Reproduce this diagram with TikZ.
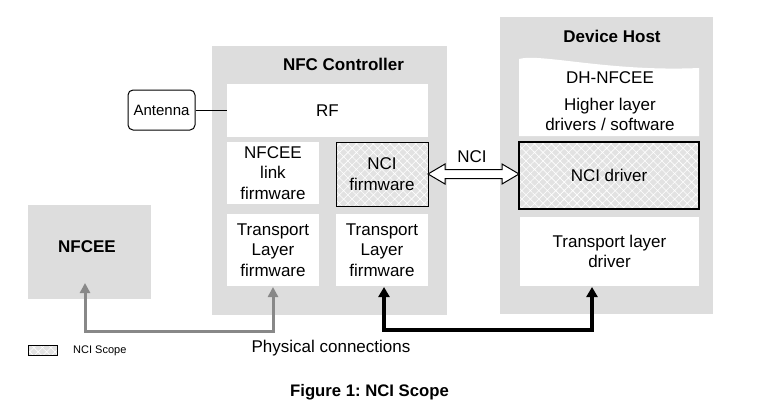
\documentclass[tikz,border=0pt]{standalone}
\usepackage{fontspec}
\setmainfont{Liberation Sans}
\frenchspacing
\usetikzlibrary{patterns.meta,calc,arrows.meta}
\definecolor{boxgray}{RGB}{221,221,221}
\definecolor{hatchbg}{RGB}{226,226,226}
\definecolor{arrgray}{RGB}{136,136,136}
\tikzset{
  txt/.style={font=\fontsize{17}{20.5}\selectfont, align=center, inner sep=0pt},
  ttl/.style={font=\fontsize{17}{20.5}\selectfont\bfseries, inner sep=0pt},
  graybox/.style={fill=boxgray, draw=none, inner sep=0pt, outer sep=0pt},
  whitebox/.style={fill=white, draw=none, inner sep=0pt, outer sep=0pt, txt},
  ncibox/.style={preaction={fill=hatchbg}, pattern={Hatch[angle=45,distance=6pt,line width=0.6pt]}, pattern color=white, draw=black, inner sep=0pt, outer sep=0pt, txt},
  garrow/.style={draw=arrgray, line width=3pt, {Triangle[length=10pt,width=10pt]}-{Triangle[length=10pt,width=10pt]}},
  barrow/.style={draw=black, line width=3.5pt, {Triangle[length=10pt,width=11pt]}-{Triangle[length=10pt,width=11pt]}},
}
\begin{document}
\begin{tikzpicture}[x=1pt,y=-1pt]
\useasboundingbox (0,0) rectangle (770,407);

% NFCEE (left)
\node[graybox, minimum width=123pt, minimum height=94pt] (nfcee) at (89.5,252) {};
\node[ttl] (nfceet) at (87,247) {NFCEE};

% NFC Controller
\node[graybox, minimum width=235pt, minimum height=269pt] (nfcc) at (329.5,180.5) {};
\node[ttl] (nfcct) at (343.5,64) {NFC Controller};
\node[whitebox, minimum width=201pt, minimum height=53pt] (rf) at (327.5,110.5) {RF};
\node[whitebox, minimum width=92pt, minimum height=62pt] (link) at (273,173) {NFCEE\\link\\firmware};
\node[ncibox, line width=1pt, minimum width=92pt, minimum height=64pt] (ncifw) at (382,174) {NCI\\firmware};
\node[whitebox, minimum width=92pt, minimum height=72pt] (tll) at (273,250) {Transport\\Layer\\firmware};
\node[whitebox, minimum width=92pt, minimum height=72pt] (tlr) at (382,250) {Transport\\Layer\\firmware};

% Antenna
\node[draw=black, line width=1pt, rounded corners=5pt, minimum width=67pt, minimum height=40pt, inner sep=0pt, font=\fontsize{15}{18}\selectfont] (ant) at (161.5,110) {Antenna};
\draw[line width=1pt] (ant.east) -- (ant.east -| rf.west);

% Device Host
\node[graybox, minimum width=213pt, minimum height=297pt] (dh) at (606.5,165.5) {};
\node[ttl] (dht) at (612,36) {Device Host};
\fill[white] (519,59) .. controls (540,53) and (610,72) .. (699,68) -- (699,136) -- (519,136) -- cycle;
\node[txt] (dhn) at (610,78) {DH-NFCEE};
\node[txt, font=\fontsize{17}{19.5}\selectfont] (hl) at (610,114.5) {Higher layer\\drivers / software};
\node[ncibox, line width=1.6pt, minimum width=180pt, minimum height=67pt] (ncidrv) at (609,175.5) {NCI driver};
\node[whitebox, minimum width=179pt, minimum height=69pt, font=\fontsize{17}{20}\selectfont] (tdrv) at (609.5,251.5) {Transport layer\\driver};

% NCI double arrow
\coordinate (L) at (ncifw.east);
\coordinate (R) at (ncidrv.west |- L);
\draw[fill=white, line width=1pt, line join=miter]
  (L) -- ++(17,-10) -- ++(0,5.5) -- ($(R)+(-17,-4.5)$) -- ++(0,-5.5) -- (R)
  -- ++(-17,10) -- ++(0,-5.5) -- ($(L)+(17,4.5)$) -- ++(0,5.5) -- cycle;
\node[txt] (ncil) at (472,157) {NCI};

% Physical connections
\draw[garrow] ([xshift=-4.5pt,yshift=16pt]nfcee.south) -- ++(0,48) -| ([yshift=-1pt]tll.south);
\draw[barrow] ([xshift=2pt,yshift=-1pt]tlr.south) -- ++(0,43) -| ([xshift=-17.5pt,yshift=-1pt]tdrv.south);
\node[txt] (phys) at (331,348) {Physical connections};

% Legend
\node[ncibox, line width=1pt, minimum width=29pt, minimum height=10pt] (leg) at (42.5,350) {};
\node[anchor=west, inner sep=0pt, font=\fontsize{11}{13}\selectfont] (legt) at (73,350.5) {NCI Scope};

% Caption
\node[inner sep=0pt, font=\fontsize{16.7}{20}\selectfont\bfseries] (cap) at (369.5,392) {Figure 1: NCI Scope};
\end{tikzpicture}
\end{document}
